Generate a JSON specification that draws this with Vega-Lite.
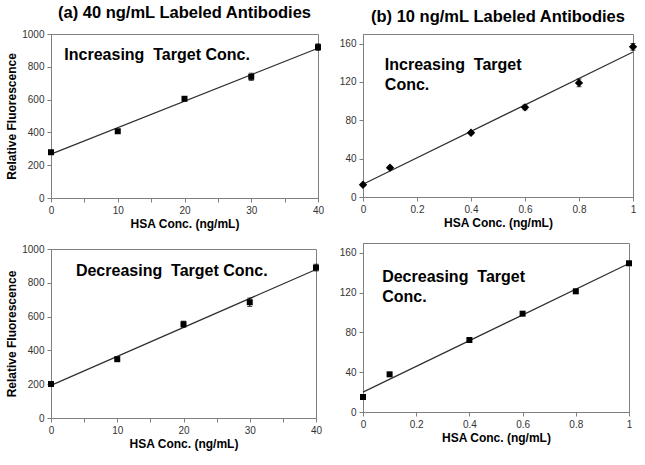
{
  "$schema": "https://vega.github.io/schema/vega-lite/v6.json",
  "padding": {"top": 4, "left": 5, "right": 5, "bottom": 5},
  "background": "white",
  "datasets": {
    "pts": [
      {"panel": "A", "conc": 0, "fluor": 279, "err": 5},
      {"panel": "A", "conc": 10, "fluor": 407, "err": 8},
      {"panel": "A", "conc": 20, "fluor": 605, "err": 10},
      {"panel": "A", "conc": 30, "fluor": 739, "err": 22},
      {"panel": "A", "conc": 40, "fluor": 920, "err": 20},
      {"panel": "B", "conc": 0, "fluor": 12.8, "err": 1},
      {"panel": "B", "conc": 0.1, "fluor": 30.6, "err": 1.5},
      {"panel": "B", "conc": 0.4, "fluor": 67, "err": 1.2},
      {"panel": "B", "conc": 0.6, "fluor": 93.5, "err": 2.5},
      {"panel": "B", "conc": 0.8, "fluor": 119, "err": 4},
      {"panel": "B", "conc": 1, "fluor": 156.6, "err": 3.5},
      {"panel": "C", "conc": 0, "fluor": 201, "err": 5},
      {"panel": "C", "conc": 10, "fluor": 348, "err": 6},
      {"panel": "C", "conc": 20, "fluor": 555, "err": 18},
      {"panel": "C", "conc": 30, "fluor": 685, "err": 25},
      {"panel": "C", "conc": 40, "fluor": 890, "err": 20},
      {"panel": "D", "conc": 0, "fluor": 15.1, "err": 0.5},
      {"panel": "D", "conc": 0.1, "fluor": 37.9, "err": 0.5},
      {"panel": "D", "conc": 0.4, "fluor": 72.4, "err": 0.8},
      {"panel": "D", "conc": 0.6, "fluor": 98.9, "err": 1},
      {"panel": "D", "conc": 0.8, "fluor": 121.4, "err": 2},
      {"panel": "D", "conc": 1, "fluor": 149.6, "err": 1}
    ],
    "notes": [
      {"panel": "A", "label": "Increasing\u00a0 Target Conc."},
      {"panel": "B", "label": ["Increasing\u00a0 Target", "Conc."]},
      {"panel": "C", "label": "Decreasing\u00a0 Target Conc."},
      {"panel": "D", "label": ["Decreasing\u00a0 Target", "Conc."]}
    ]
  },
  "config": {
    "font": "Liberation Sans",
    "view": {"stroke": "#7f7f7f", "strokeWidth": 1},
    "axis": {
      "grid": false,
      "domainColor": "#7f7f7f",
      "tickColor": "#7f7f7f",
      "tickSize": 4,
      "labelFont": "Liberation Sans",
      "labelFontSize": 10,
      "labelColor": "#333333",
      "labelFlush": false,
      "labelOverlap": false,
      "labelPadding": 3,
      "titleFont": "Liberation Sans",
      "titleFontSize": 12,
      "titleFontWeight": "bold",
      "titleColor": "#000000",
      "titlePadding": 3
    },
    "title": {"font": "Liberation Sans", "fontSize": 16.5, "fontWeight": "bold", "color": "#000000", "offset": 8},
    "text": {"font": "Liberation Sans", "fontSize": 16, "fontWeight": "bold", "color": "#000000", "align": "left", "baseline": "middle", "lineHeight": 20}
  },
  "spacing": 13,
  "hconcat": [
    {
      "spacing": 13,
      "vconcat": [
        {
          "width": 267, "height": 164,
          "title": "(a) 40 ng/mL Labeled Antibodies",
          "layer": [
            {"data": {"name": "pts"}, "transform": [{"filter": "datum.panel == 'A'"}, {"regression": "fluor", "on": "conc", "extent": [0, 40]}],
             "mark": {"type": "line", "color": "#303030", "strokeWidth": 1.2},
             "encoding": {
               "x": {"field": "conc", "type": "quantitative", "scale": {"domain": [0, 40], "nice": false},
                     "axis": {"title": "HSA Conc. (ng/mL)", "values": [0, 5, 10, 15, 20, 25, 30, 35, 40], "labelExpr": "datum.value % 10 === 0 ? datum.label : ''"}},
               "y": {"field": "fluor", "type": "quantitative", "scale": {"domain": [0, 1000], "nice": false},
                     "axis": {"title": "Relative Fluorescence", "values": [0, 200, 400, 600, 800, 1000], "labelExpr": "format(datum.value, 'd')"}}
             }},
            {"data": {"name": "pts"}, "transform": [{"filter": "datum.panel == 'A'"}],
             "mark": {"type": "errorbar", "ticks": {"size": 5}, "color": "#000000"},
             "encoding": {
               "x": {"field": "conc", "type": "quantitative", "scale": {"domain": [0, 40], "nice": false},
                     "axis": {"title": "HSA Conc. (ng/mL)", "values": [0, 5, 10, 15, 20, 25, 30, 35, 40], "labelExpr": "datum.value % 10 === 0 ? datum.label : ''"}},
               "y": {"field": "fluor", "type": "quantitative", "scale": {"domain": [0, 1000], "nice": false},
                     "axis": {"title": "Relative Fluorescence", "values": [0, 200, 400, 600, 800, 1000], "labelExpr": "format(datum.value, 'd')"}},
               "yError": {"field": "err"}
             }},
            {"data": {"name": "pts"}, "transform": [{"filter": "datum.panel == 'A'"}],
             "mark": {"type": "point", "shape": "square", "filled": true, "size": 36, "color": "#000000", "opacity": 1},
             "encoding": {
               "x": {"field": "conc", "type": "quantitative", "scale": {"domain": [0, 40], "nice": false},
                     "axis": {"title": "HSA Conc. (ng/mL)", "values": [0, 5, 10, 15, 20, 25, 30, 35, 40], "labelExpr": "datum.value % 10 === 0 ? datum.label : ''"}},
               "y": {"field": "fluor", "type": "quantitative", "scale": {"domain": [0, 1000], "nice": false},
                     "axis": {"title": "Relative Fluorescence", "values": [0, 200, 400, 600, 800, 1000], "labelExpr": "format(datum.value, 'd')"}}
             }},
            {"data": {"name": "notes"}, "transform": [{"filter": "datum.panel == 'A'"}],
             "mark": {"type": "text"},
             "encoding": {
               "x": {"datum": 2, "axis": {"title": "HSA Conc. (ng/mL)", "values": [0, 5, 10, 15, 20, 25, 30, 35, 40], "labelExpr": "datum.value % 10 === 0 ? datum.label : ''"}},
               "y": {"datum": 870, "axis": {"title": "Relative Fluorescence", "values": [0, 200, 400, 600, 800, 1000], "labelExpr": "format(datum.value, 'd')"}},
               "text": {"field": "label"}}}
          ]
        },
        {
          "width": 265, "height": 169,
          "layer": [
            {"data": {"name": "pts"}, "transform": [{"filter": "datum.panel == 'C'"}, {"regression": "fluor", "on": "conc", "extent": [0, 40]}],
             "mark": {"type": "line", "color": "#303030", "strokeWidth": 1.2},
             "encoding": {
               "x": {"field": "conc", "type": "quantitative", "scale": {"domain": [0, 40], "nice": false},
                     "axis": {"title": "HSA Conc. (ng/mL)", "values": [0, 5, 10, 15, 20, 25, 30, 35, 40], "labelExpr": "datum.value % 10 === 0 ? datum.label : ''"}},
               "y": {"field": "fluor", "type": "quantitative", "scale": {"domain": [0, 1000], "nice": false},
                     "axis": {"title": "Relative Fluorescence", "values": [0, 200, 400, 600, 800, 1000], "labelExpr": "format(datum.value, 'd')"}}
             }},
            {"data": {"name": "pts"}, "transform": [{"filter": "datum.panel == 'C'"}],
             "mark": {"type": "errorbar", "ticks": {"size": 5}, "color": "#000000"},
             "encoding": {
               "x": {"field": "conc", "type": "quantitative", "scale": {"domain": [0, 40], "nice": false},
                     "axis": {"title": "HSA Conc. (ng/mL)", "values": [0, 5, 10, 15, 20, 25, 30, 35, 40], "labelExpr": "datum.value % 10 === 0 ? datum.label : ''"}},
               "y": {"field": "fluor", "type": "quantitative", "scale": {"domain": [0, 1000], "nice": false},
                     "axis": {"title": "Relative Fluorescence", "values": [0, 200, 400, 600, 800, 1000], "labelExpr": "format(datum.value, 'd')"}},
               "yError": {"field": "err"}
             }},
            {"data": {"name": "pts"}, "transform": [{"filter": "datum.panel == 'C'"}],
             "mark": {"type": "point", "shape": "square", "filled": true, "size": 36, "color": "#000000", "opacity": 1},
             "encoding": {
               "x": {"field": "conc", "type": "quantitative", "scale": {"domain": [0, 40], "nice": false},
                     "axis": {"title": "HSA Conc. (ng/mL)", "values": [0, 5, 10, 15, 20, 25, 30, 35, 40], "labelExpr": "datum.value % 10 === 0 ? datum.label : ''"}},
               "y": {"field": "fluor", "type": "quantitative", "scale": {"domain": [0, 1000], "nice": false},
                     "axis": {"title": "Relative Fluorescence", "values": [0, 200, 400, 600, 800, 1000], "labelExpr": "format(datum.value, 'd')"}}
             }},
            {"data": {"name": "notes"}, "transform": [{"filter": "datum.panel == 'C'"}],
             "mark": {"type": "text"},
             "encoding": {
               "x": {"datum": 3.76, "axis": {"title": "HSA Conc. (ng/mL)", "values": [0, 5, 10, 15, 20, 25, 30, 35, 40], "labelExpr": "datum.value % 10 === 0 ? datum.label : ''"}},
               "y": {"datum": 871, "axis": {"title": "Relative Fluorescence", "values": [0, 200, 400, 600, 800, 1000], "labelExpr": "format(datum.value, 'd')"}},
               "text": {"field": "label"}}}
          ]
        }
      ]
    },
    {
      "spacing": 13,
      "vconcat": [
        {
          "width": 270, "height": 163,
          "title": {"text": "(b) 10 ng/mL Labeled Antibodies", "offset": 9},
          "layer": [
            {"data": {"name": "pts"}, "transform": [{"filter": "datum.panel == 'B'"}, {"regression": "fluor", "on": "conc", "extent": [0, 1]}],
             "mark": {"type": "line", "color": "#303030", "strokeWidth": 1.2},
             "encoding": {
               "x": {"field": "conc", "type": "quantitative", "scale": {"domain": [0, 1], "nice": false},
                     "axis": {"title": "HSA Conc. (ng/mL)", "values": [0, 0.1, 0.2, 0.3, 0.4, 0.5, 0.6, 0.7, 0.8, 0.9, 1], "labelExpr": "round(datum.value * 10) % 2 === 0 ? format(datum.value, '~g') : ''"}},
               "y": {"field": "fluor", "type": "quantitative", "scale": {"domain": [0, 170], "nice": false},
                     "axis": {"title": null, "values": [0, 20, 40, 60, 80, 100, 120, 140, 160], "labelExpr": "datum.value % 40 === 0 ? datum.label : ''"}}
             }},
            {"data": {"name": "pts"}, "transform": [{"filter": "datum.panel == 'B'"}],
             "mark": {"type": "errorbar", "ticks": {"size": 5}, "color": "#000000"},
             "encoding": {
               "x": {"field": "conc", "type": "quantitative", "scale": {"domain": [0, 1], "nice": false},
                     "axis": {"title": "HSA Conc. (ng/mL)", "values": [0, 0.1, 0.2, 0.3, 0.4, 0.5, 0.6, 0.7, 0.8, 0.9, 1], "labelExpr": "round(datum.value * 10) % 2 === 0 ? format(datum.value, '~g') : ''"}},
               "y": {"field": "fluor", "type": "quantitative", "scale": {"domain": [0, 170], "nice": false},
                     "axis": {"title": null, "values": [0, 20, 40, 60, 80, 100, 120, 140, 160], "labelExpr": "datum.value % 40 === 0 ? datum.label : ''"}},
               "yError": {"field": "err"}
             }},
            {"data": {"name": "pts"}, "transform": [{"filter": "datum.panel == 'B'"}],
             "mark": {"type": "point", "shape": "diamond", "filled": true, "size": 70, "color": "#000000", "opacity": 1},
             "encoding": {
               "x": {"field": "conc", "type": "quantitative", "scale": {"domain": [0, 1], "nice": false},
                     "axis": {"title": "HSA Conc. (ng/mL)", "values": [0, 0.1, 0.2, 0.3, 0.4, 0.5, 0.6, 0.7, 0.8, 0.9, 1], "labelExpr": "round(datum.value * 10) % 2 === 0 ? format(datum.value, '~g') : ''"}},
               "y": {"field": "fluor", "type": "quantitative", "scale": {"domain": [0, 170], "nice": false},
                     "axis": {"title": null, "values": [0, 20, 40, 60, 80, 100, 120, 140, 160], "labelExpr": "datum.value % 40 === 0 ? datum.label : ''"}}
             }},
            {"data": {"name": "notes"}, "transform": [{"filter": "datum.panel == 'B'"}],
             "mark": {"type": "text"},
             "encoding": {"x": {"datum": 0.081}, "y": {"datum": 138}, "text": {"field": "label"}}}
          ]
        },
        {
          "width": 266, "height": 169,
          "layer": [
            {"data": {"name": "pts"}, "transform": [{"filter": "datum.panel == 'D'"}, {"regression": "fluor", "on": "conc", "extent": [0, 1]}],
             "mark": {"type": "line", "color": "#303030", "strokeWidth": 1.2},
             "encoding": {
               "x": {"field": "conc", "type": "quantitative", "scale": {"domain": [0, 1], "nice": false},
                     "axis": {"title": "HSA Conc. (ng/mL)", "values": [0, 0.1, 0.2, 0.3, 0.4, 0.5, 0.6, 0.7, 0.8, 0.9, 1], "labelExpr": "round(datum.value * 10) % 2 === 0 ? format(datum.value, '~g') : ''"}},
               "y": {"field": "fluor", "type": "quantitative", "scale": {"domain": [0, 170], "nice": false},
                     "axis": {"title": null, "values": [0, 20, 40, 60, 80, 100, 120, 140, 160], "labelExpr": "datum.value % 40 === 0 ? datum.label : ''"}}
             }},
            {"data": {"name": "pts"}, "transform": [{"filter": "datum.panel == 'D'"}],
             "mark": {"type": "errorbar", "ticks": {"size": 5}, "color": "#000000"},
             "encoding": {
               "x": {"field": "conc", "type": "quantitative", "scale": {"domain": [0, 1], "nice": false},
                     "axis": {"title": "HSA Conc. (ng/mL)", "values": [0, 0.1, 0.2, 0.3, 0.4, 0.5, 0.6, 0.7, 0.8, 0.9, 1], "labelExpr": "round(datum.value * 10) % 2 === 0 ? format(datum.value, '~g') : ''"}},
               "y": {"field": "fluor", "type": "quantitative", "scale": {"domain": [0, 170], "nice": false},
                     "axis": {"title": null, "values": [0, 20, 40, 60, 80, 100, 120, 140, 160], "labelExpr": "datum.value % 40 === 0 ? datum.label : ''"}},
               "yError": {"field": "err"}
             }},
            {"data": {"name": "pts"}, "transform": [{"filter": "datum.panel == 'D'"}],
             "mark": {"type": "point", "shape": "square", "filled": true, "size": 36, "color": "#000000", "opacity": 1},
             "encoding": {
               "x": {"field": "conc", "type": "quantitative", "scale": {"domain": [0, 1], "nice": false},
                     "axis": {"title": "HSA Conc. (ng/mL)", "values": [0, 0.1, 0.2, 0.3, 0.4, 0.5, 0.6, 0.7, 0.8, 0.9, 1], "labelExpr": "round(datum.value * 10) % 2 === 0 ? format(datum.value, '~g') : ''"}},
               "y": {"field": "fluor", "type": "quantitative", "scale": {"domain": [0, 170], "nice": false},
                     "axis": {"title": null, "values": [0, 20, 40, 60, 80, 100, 120, 140, 160], "labelExpr": "datum.value % 40 === 0 ? datum.label : ''"}}
             }},
            {"data": {"name": "notes"}, "transform": [{"filter": "datum.panel == 'D'"}],
             "mark": {"type": "text"},
             "encoding": {"x": {"datum": 0.072}, "y": {"datum": 136}, "text": {"field": "label"}}}
          ]
        }
      ]
    }
  ]
}
